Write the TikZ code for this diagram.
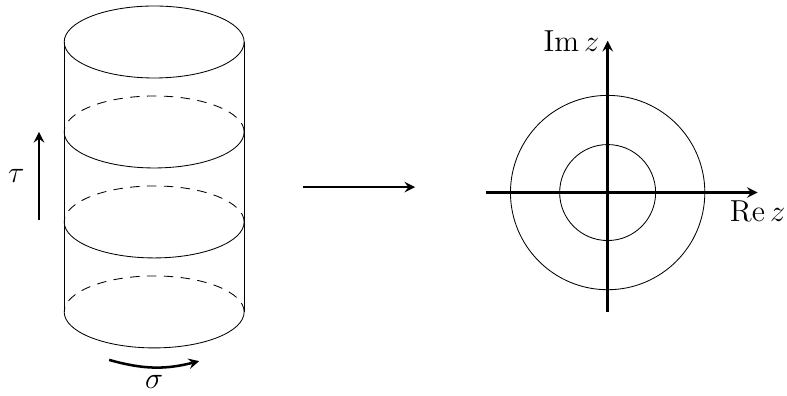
\documentclass[tikz,border=0pt]{standalone}
\usetikzlibrary{positioning, arrows.meta}

\begin{document}
\begin{tikzpicture}[
        arrow/.style={
            ->,
            >=stealth,
            very thick
        },
        hidden/.style={
            dash pattern=on 4.5pt off 3.5pt
        },
        lbl/.style={
            font=\Large
        }
    ]
    \useasboundingbox (0,0) rectangle (13.12,6.6);

    % Cylindre
    \draw (1.07,1.4) -- (1.07,5.9);
    \draw (4.07,1.4) -- (4.07,5.9);
    \draw (2.57,5.9) ellipse (1.5 and 0.6);
    \foreach \y in {1.4,2.9,4.4} {
        \draw (1.07,\y) arc (180:360:1.5 and 0.6);
        \draw[hidden] (4.07,\y) arc (0:180:1.5 and 0.6);
    }

    % Directions tau et sigma
    \coordinate (tauA) at (0.65,2.93);
    \coordinate (tauB) at (0.65,4.4);
    \draw[arrow] (tauA) -- node[left=3pt, lbl] (tau) {$\tau$} (tauB);

    \coordinate (sigA) at (1.82,0.6);
    \coordinate (sigB) at (3.32,0.58);
    \draw[arrow] (sigA) to[bend right=15] node[below, lbl] (sigma) {$\sigma$} (sigB);

    % Application
    \coordinate (mapA) at (5.05,3.48);
    \coordinate (mapB) at (6.92,3.48);
    \draw[arrow] (mapA) -- (mapB);

    % Plan complexe
    \coordinate (O) at (10.13,3.39);
    \coordinate (reA) at (8.11,3.39);
    \coordinate (reB) at (12.63,3.39);
    \coordinate (imA) at (10.13,1.4);
    \coordinate (imB) at (10.13,5.92);
    \draw (O) circle (1.62);
    \draw (O) circle (0.8);
    \draw[arrow] (reA) -- (reB) node[below, lbl] (re) {$\mathrm{Re}\,z$};
    \draw[arrow] (imA) -- (imB) node[left, lbl] (im) {$\mathrm{Im}\,z$};

\end{tikzpicture}
\end{document}
